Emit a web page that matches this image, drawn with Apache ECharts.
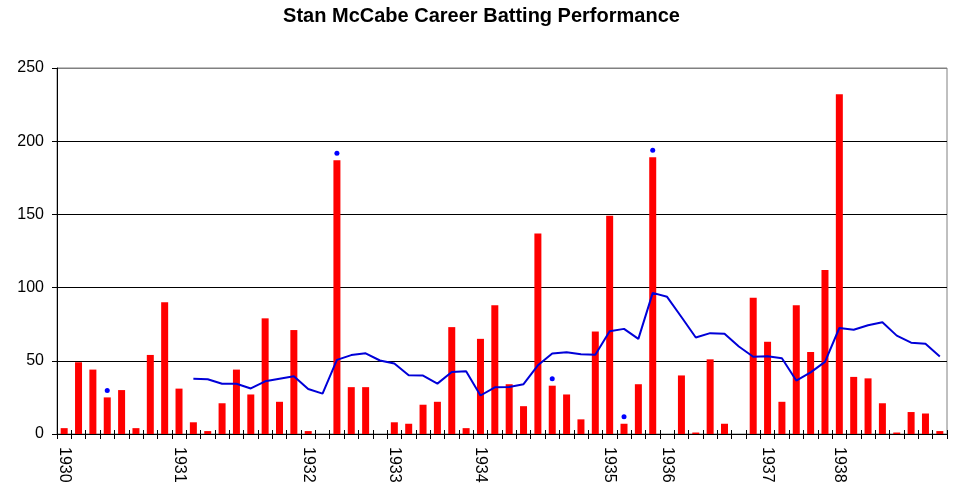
<!DOCTYPE html>
<html lang="en">
<head>
<meta charset="UTF-8">
<title>Stan McCabe Career Batting Performance</title>
<script src="https://cdn.jsdelivr.net/npm/echarts@6/dist/echarts.min.js"></script>
<style>
    html, body { margin: 0; padding: 0; background: #fff; }
    #container { width: 963px; height: 492px; }
</style>
</head>
<body>
<div id="container"></div>
<script type="text/javascript">
    // runs per innings, in order
    const scores = [
        4, 49, 44, 25, 30, 4, 54, 90, 31, 8,
        2, 21, 44, 27, 79, 22, 71, 2, 0, 187,
        32, 32, 0, 8, 7, 20, 22, 73, 4, 65,
        88, 34, 19, 137, 33, 27, 10, 70, 149, 7,
        34, 189, 0, 40, 1, 51, 7, 0, 93, 63,
        22, 88, 56, 112, 232, 39, 38, 21, 1, 15,
        14, 2
    ];
    // 10 innings running average (blue line)
    const runningAvg = [
        null, null, null, null, null, null, null, null, null, 37.7,
        37.4, 34.3, 34.3, 31.1, 36.0, 37.8, 39.5, 30.7, 27.6, 50.6,
        53.9, 55.1, 50.2, 48.1, 40.1, 39.9, 34.4, 42.3, 42.8, 26.3,
        31.9, 32.1, 34.0, 46.9, 55.0, 55.8, 54.4, 54.1, 70.2, 71.8,
        65.0, 96.4, 93.7, 79.9, 65.9, 68.9, 68.5, 59.8, 52.8, 53.1,
        51.8, 36.5, 42.1, 49.3, 72.4, 71.2, 74.3, 76.4, 67.2, 62.4,
        61.6, 53.0
    ];
    // innings that ended not out (blue dots)
    const notOutInnings = [3, 19, 34, 39, 41];

    // year tick labels and the innings where each one sits
    const yearLabels = ['1930', '1931', '1932', '1933', '1934', '1935', '1936', '1937', '1938'];
    const yearStart = [0, 8, 17, 23, 29, 38, 42, 49, 54];

    const innings = scores.map((s, i) => String(i + 1));
    const labelAt = innings.map((s, i) => {
        const k = yearStart.indexOf(i);
        return k >= 0 ? yearLabels[k] : '';
    });

    const font = "'Liberation Sans', Arial, sans-serif";
    const plotHeight = 492 - 68 - 58;

    const myChart = echarts.init(document.getElementById('container'), null, { renderer: 'canvas' });

    const option = {
        animation: false,
        title: {
            text: 'Stan McCabe Career Batting Performance',
            left: 'center',
            top: 1,
            textStyle: { fontFamily: font, fontSize: 20, fontWeight: 'bold', color: '#000' }
        },
        grid: {
            left: 57, right: 16, top: 68, bottom: 58,
            show: true, borderColor: '#808080', borderWidth: 1
        },
        xAxis: [
            {
                type: 'category',
                data: innings,
                boundaryGap: true,
                position: 'bottom',
                axisLine: { show: true, lineStyle: { color: '#000', width: 1 } },
                axisTick: { show: true, interval: 0, length: 5, lineStyle: { color: '#000' } },
                axisLabel: {
                    interval: 0,
                    rotate: -90,
                    margin: 13,
                    color: '#000',
                    fontFamily: font,
                    fontSize: 16,
                    formatter: (v, i) => labelAt[i]
                },
                splitLine: { show: false }
            },
            {
                // upper half of the crossing ticks: a top axis moved down onto the bottom line
                type: 'category',
                data: innings,
                boundaryGap: true,
                position: 'top',
                offset: -plotHeight,
                axisLine: { show: false },
                axisTick: { show: true, inside: false, interval: 0, length: 4, lineStyle: { color: '#000' } },
                axisLabel: { show: false },
                splitLine: { show: false }
            }
        ],
        yAxis: {
            type: 'value',
            min: 0,
            max: 250,
            interval: 50,
            axisLine: { show: true, lineStyle: { color: '#000' } },
            axisTick: { show: true, length: 5, lineStyle: { color: '#000' } },
            axisLabel: { color: '#000', fontFamily: font, fontSize: 16, margin: 13 },
            splitLine: {
                show: true,
                lineStyle: { color: ['#000', '#000', '#000', '#000', '#000', '#808080'], width: 1 }
            }
        },
        series: [
            {
                name: 'Runs',
                type: 'bar',
                data: scores,
                barWidth: 7,
                itemStyle: { color: '#ff0000' },
                z: 2
            },
            {
                name: 'Average',
                type: 'line',
                data: runningAvg,
                symbol: 'none',
                lineStyle: { color: '#0000d8', width: 2 },
                z: 3
            },
            {
                name: 'Not out',
                type: 'scatter',
                data: notOutInnings.map(i => [i, scores[i]]),
                symbol: 'circle',
                symbolSize: 5,
                symbolOffset: [0, -7],
                itemStyle: { color: '#0000ff', opacity: 1 },
                z: 4
            }
        ]
    };

    myChart.setOption(option);
</script>
</body>
</html>
